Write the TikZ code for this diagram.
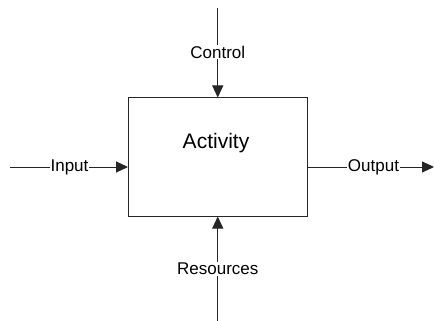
\documentclass[tikz,border=0pt]{standalone}
\usepackage{fontspec}
\setmainfont{Liberation Sans}
\usetikzlibrary{arrows.meta}
\begin{document}
\begin{tikzpicture}[x=1pt,y=-1pt,
  conn/.style={line width=1pt, draw=black!85},
  arr/.style={conn, -{Triangle[length=12pt,width=11pt]}},
  lbl/.style={font=\fontsize{17}{19}\selectfont, inner sep=0.5pt, fill=white},
  actbox/.style={draw=black!85, line width=1pt, minimum width=178.5pt, minimum height=118pt, inner sep=0pt}]
\useasboundingbox (0,0) rectangle (434,321);
\node[actbox] (act) at (217.75,157) {};
\node[font=\fontsize{21}{23}\selectfont] (acttxt) at (216,143) {Activity};
% free ends
\coordinate (ctop) at (217.75,8);
\coordinate (rbot) at (217.75,321);
\coordinate (inl) at (10,167);
\coordinate (outr) at (434,167);
% labels
\node[lbl] (lctl) at (217.75,52) {Control};
\node[lbl] (lres) at (217.75,269) {Resources};
\node[lbl] (lin) at (69.5,167) {Input};
\node[lbl] (lout) at (373.5,167) {Output};
% connectors
\draw[conn] (ctop) -- (lctl);
\draw[arr] (lctl) -- (act.north);
\draw[conn] (rbot) -- (lres);
\draw[arr] (lres) -- (act.south);
\draw[conn] (inl) -- (lin);
\draw[arr] (lin) -- (act.west |- inl);
\draw[conn] (act.east |- outr) -- (lout);
\draw[arr] (lout) -- (outr);
\end{tikzpicture}
\end{document}
